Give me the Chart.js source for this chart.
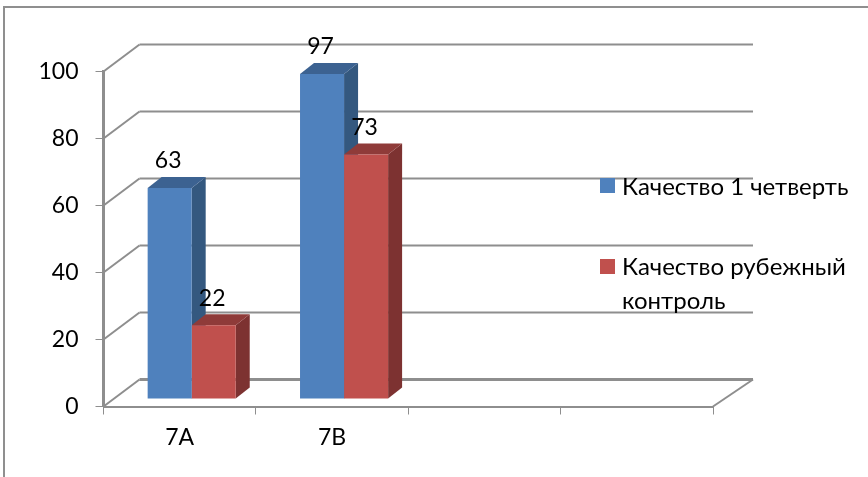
<!DOCTYPE html>
<html lang="ru">
<head>
<meta charset="utf-8">
<title>Качество</title>
<script src="https://cdn.jsdelivr.net/npm/chart.js@4"></script>
<style>
  html, body { margin: 0; padding: 0; background: #fff; overflow: hidden; }
  #wrap { position: relative; width: 868px; height: 477px; }
  #frame { position: absolute; left: 3px; top: 6px; right: -4px; bottom: -4px; border: 2px solid #8f8f8f; }
  canvas { position: absolute; left: 0; top: 0; filter: blur(0.5px); }
</style>
</head>
<body>
<div id="wrap">
  <div id="frame"></div>
  <canvas id="qualityChart" width="868" height="477"></canvas>
</div>
<script>
const categories = ['7А', '7В', '', ''];
const firstQuarter = [63, 97, null, null];
const midControl = [22, 73, null, null];
const yTicks = [0, 20, 40, 60, 80, 100];
const firstLabel = ['Качество 1 четверть'];
const secondLabel = ['Качество рубежный', 'контроль'];

const FONT_FAMILY = 'Lato, "Open Sans", sans-serif';
const GRID = '#8e8e8e';

// Wall depth and how far the bars sit from the front edge of the floor
const WALL_DX = 36, WALL_DY = -27;
const BAR_DX = 12, BAR_DY = -7.5;
const DEPTH_DX = 14, DEPTH_DY = -11;

const faces = [
  { front: '#4f81bd', side: '#34587f', top: '#3c6291' },
  { front: '#c0504d', side: '#7d3231', top: '#8f3b39' }
];

// Back wall lines and floor
const wallPlugin = {
  id: 'wall',
  beforeDatasetsDraw(chart) {
    const { ctx, scales: { x, y } } = chart;
    ctx.save();
    ctx.strokeStyle = GRID;
    yTicks.forEach(value => {
      const py = y.getPixelForValue(value);
      ctx.lineWidth = 2;
      ctx.beginPath();
      ctx.moveTo(x.left, py);
      ctx.lineTo(x.left + WALL_DX, py + WALL_DY);
      ctx.stroke();
      ctx.lineWidth = value === 0 ? 3 : 2;
      ctx.beginPath();
      ctx.moveTo(x.left + WALL_DX, py + WALL_DY);
      ctx.lineTo(x.right + WALL_DX + 4, py + WALL_DY);
      ctx.stroke();
    });
    const py0 = y.getPixelForValue(0);
    ctx.lineWidth = 2;
    ctx.beginPath();
    ctx.moveTo(x.right, py0);
    ctx.lineTo(x.right + WALL_DX + 4, py0 + WALL_DY);
    ctx.stroke();
    ctx.restore();
  }
};

// Side and top faces, blue first so that red overlaps it
const depthPlugin = {
  id: 'depth',
  beforeDatasetsDraw(chart) {
    const ctx = chart.ctx;
    ctx.save();
    ctx.translate(BAR_DX, BAR_DY);
    chart.data.datasets.forEach((ds, i) => {
      chart.getDatasetMeta(i).data.forEach((bar, j) => {
        if (ds.data[j] === null) return;
        const half = bar.width / 2;
        const l = bar.x - half, r = bar.x + half;
        ctx.fillStyle = faces[i].side;
        ctx.beginPath();
        ctx.moveTo(r, bar.y);
        ctx.lineTo(r + DEPTH_DX, bar.y + DEPTH_DY);
        ctx.lineTo(r + DEPTH_DX, bar.base + DEPTH_DY);
        ctx.lineTo(r, bar.base);
        ctx.closePath();
        ctx.fill();
        ctx.fillStyle = faces[i].top;
        ctx.beginPath();
        ctx.moveTo(l, bar.y);
        ctx.lineTo(l + DEPTH_DX, bar.y + DEPTH_DY);
        ctx.lineTo(r + DEPTH_DX, bar.y + DEPTH_DY);
        ctx.lineTo(r, bar.y);
        ctx.closePath();
        ctx.fill();
      });
    });
    ctx.restore();
  },
  beforeDatasetDraw(chart) {
    chart.ctx.save();
    chart.ctx.translate(BAR_DX, BAR_DY);
  },
  afterDatasetDraw(chart) {
    chart.ctx.restore();
  }
};

// Value labels above the bars and the legend on the right
const textPlugin = {
  id: 'texts',
  afterDraw(chart) {
    const ctx = chart.ctx;
    ctx.save();
    ctx.font = '23px ' + FONT_FAMILY;
    ctx.fillStyle = '#000';
    ctx.textAlign = 'center';
    ctx.textBaseline = 'middle';
    chart.data.datasets.forEach((ds, i) => {
      chart.getDatasetMeta(i).data.forEach((bar, j) => {
        if (ds.data[j] === null) return;
        ctx.fillText(String(ds.data[j]), bar.x + BAR_DX - 1.5, bar.y + BAR_DY - 27);
      });
    });
    ctx.textAlign = 'left';
    ctx.fillStyle = faces[0].front;
    ctx.fillRect(600, 178, 15, 15);
    ctx.fillStyle = faces[1].front;
    ctx.fillRect(600, 259, 15, 15);
    ctx.font = '24px ' + FONT_FAMILY;
    ctx.fillStyle = '#000';
    ctx.fillText(firstLabel[0], 622, 187);
    ctx.fillText(secondLabel[0], 622, 267);
    ctx.fillText(secondLabel[1], 622, 301);
    ctx.restore();
  }
};

new Chart(document.getElementById('qualityChart'), {
  type: 'bar',
  data: {
    labels: categories,
    datasets: [
      { label: firstLabel.join(' '), data: firstQuarter, backgroundColor: faces[0].front },
      { label: secondLabel.join(' '), data: midControl, backgroundColor: faces[1].front }
    ]
  },
  plugins: [wallPlugin, depthPlugin, textPlugin],
  options: {
    responsive: false,
    animation: false,
    layout: { padding: { top: 71.5, right: 155, left: 0, bottom: 0 } },
    plugins: { legend: { display: false }, tooltip: { enabled: false } },
    datasets: { bar: { barPercentage: 1, categoryPercentage: 0.578 } },
    scales: {
      x: {
        afterFit(scale) { scale.height = 70.5; },
        border: { color: GRID, width: 2 },
        grid: { color: GRID, drawOnChartArea: false, tickLength: 8 },
        ticks: { color: '#000', font: { family: FONT_FAMILY, size: 23 }, padding: 9, maxRotation: 0 }
      },
      y: {
        min: 0,
        max: 100,
        afterFit(scale) { scale.width = 103.5; },
        border: { color: GRID, width: 3 },
        grid: { color: GRID, drawOnChartArea: false, tickLength: 8 },
        ticks: { color: '#000', font: { family: FONT_FAMILY, size: 23 }, stepSize: 20, padding: 17 }
      }
    }
  }
});
</script>
</body>
</html>
